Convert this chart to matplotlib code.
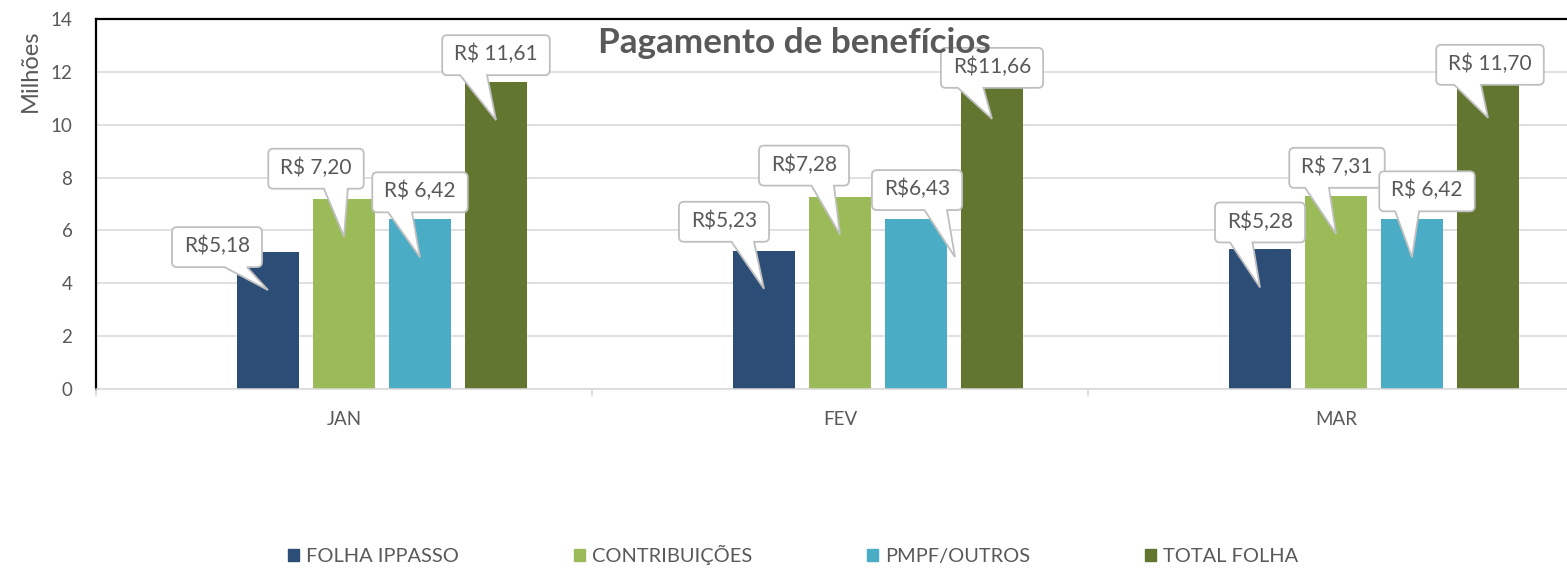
import numpy as np
import matplotlib
matplotlib.use("Agg")
import matplotlib.pyplot as plt
from matplotlib.path import Path
from matplotlib.patches import PathPatch, Patch
from matplotlib.transforms import Affine2D, ScaledTranslation

plt.rcParams["font.family"] = ["Lato", "DejaVu Sans"]

# ---- dados ----
months = ["JAN", "FEV", "MAR"]
series = ["FOLHA IPPASSO", "CONTRIBUIÇÕES", "PMPF/OUTROS", "TOTAL FOLHA"]
folha = [5.18, 5.23, 5.28]
contrib = [7.20, 7.28, 7.31]
pmpf = [6.42, 6.43, 6.42]
total = [11.61, 11.66, 11.70]
lab_folha = ["R$5,18", "R$5,23", "R$5,28"]
lab_contrib = ["R$ 7,20", "R$7,28", "R$ 7,31"]
lab_pmpf = ["R$ 6,42", "R$6,43", "R$ 6,42"]
lab_total = ["R$ 11,61", "R$11,66", "R$ 11,70"]

colors = ["#2C4D75", "#9BBB59", "#4BACC6", "#62762F"]
GRAY_TXT = "#595959"
GRID = "#D9D9D9"

# posição dos balões (px): centro da caixa relativo à ponta, e deslocamento da ponta
box_off = [
    [(-51, 43), (-40, 67), (0, 65)],
    [(-28, 68), (-36, 69), (1, 66)],
    [(0, 65), (-38, 67), (15, 66)],
    [(0, 65), (0, 51), (2, 53)],
]
tip_dx = [[0, 0, 0], [0, 0, 0], [0, 39, 0], [0, 0, 0]]
TIP_DROP = 38

W, H = 1567, 570
fig = plt.figure(figsize=(W / 100, H / 100), dpi=100)
ax = fig.add_axes([96 / W, 181 / H, 1488 / W, 370 / H])

x = np.arange(len(months))
step, width = 76 / 496, 62 / 496
values = [folha, contrib, pmpf, total]
labels = [lab_folha, lab_contrib, lab_pmpf, lab_total]

for i, (vals, c) in enumerate(zip(values, colors)):
    ax.bar(x + (i - 1) * step, vals, width, color=c, zorder=2, label=series[i])

ax.set_xlim(-0.5, 2.5)
ax.set_ylim(0, 14)
ax.set_yticks(range(0, 15, 2))
ax.yaxis.grid(True, color=GRID, lw=1.1)
ax.set_axisbelow(True)
ax.tick_params(axis="y", length=0, pad=17, labelsize=13.5, labelcolor=GRAY_TXT)
ax.set_xticks(x)
ax.set_xticklabels(months)
ax.set_xticks([-0.5, 0.5, 1.5, 2.5], minor=True)
ax.tick_params(axis="x", which="major", length=0, pad=16, labelsize=13.5, labelcolor=GRAY_TXT)
ax.tick_params(axis="x", which="minor", length=5, width=1.1, color=GRID)
for side in ["top", "left"]:
    ax.spines[side].set_color("black")
    ax.spines[side].set_linewidth(1.6)
ax.spines["bottom"].set_color(GRID)
ax.spines["bottom"].set_linewidth(1.1)
ax.spines["right"].set_visible(False)

renderer = fig.canvas.get_renderer()
s = fig.dpi / 100


def callout(xb, yb, text, off, tdx):
    base = ScaledTranslation(xb, yb, ax.transData)
    tx, ty = tdx, -TIP_DROP
    cx, cy = tx + off[0], ty + off[1]
    t = ax.text(0, 0, text, transform=Affine2D().translate(cx, cy + 1).scale(s) + base,
                ha="center", va="center", fontsize=15, color=GRAY_TXT, zorder=6)
    w = t.get_window_extent(renderer).width / s + 24
    h = 40
    r = 5
    l, rt = cx - w / 2, cx + w / 2
    b, tp = cy - h / 2, cy + h / 2
    right = (tx - cx) > 0
    x1 = l + w * (7 / 12 if right else 2 / 12)
    x2 = l + w * (10 / 12 if right else 5 / 12)
    verts = [(l + r, b), (x1, b), (tx, ty), (x2, b), (rt - r, b),
             (rt, b), (rt, b + r), (rt, tp - r),
             (rt, tp), (rt - r, tp), (l + r, tp),
             (l, tp), (l, tp - r), (l, b + r),
             (l, b), (l + r, b), (l + r, b)]
    codes = [Path.MOVETO, Path.LINETO, Path.LINETO, Path.LINETO, Path.LINETO,
             Path.CURVE3, Path.CURVE3, Path.LINETO,
             Path.CURVE3, Path.CURVE3, Path.LINETO,
             Path.CURVE3, Path.CURVE3, Path.LINETO,
             Path.CURVE3, Path.CURVE3, Path.CLOSEPOLY]
    p = PathPatch(Path(verts, codes), transform=Affine2D().scale(s) + base,
                  fc="white", ec="#BFBFBF", lw=1.3, zorder=5, clip_on=False)
    ax.add_patch(p)


for i, (vals, labs) in enumerate(zip(values, labels)):
    for j in range(len(months)):
        callout(x[j] + (i - 1) * step, vals[j], labs[j], box_off[i][j], tip_dx[i][j])

fig.text(794 / W, 1 - 53 / H, "Pagamento de benefícios", ha="center", va="baseline",
         fontsize=25.3, fontweight="bold", color=GRAY_TXT, zorder=10)
fig.text(30 / W, 1 - 71 / H, "Milhões", rotation=90, ha="center", va="center",
         fontsize=17, color=GRAY_TXT)

handles = [Patch(color=c) for c in colors]
fig.legend(handles, series, loc="center", bbox_to_anchor=(0.506, 0.026), ncol=4,
           frameon=False, fontsize=14.4, handlelength=0.55, handleheight=0.55,
           handletextpad=0.35, columnspacing=5.75, labelcolor=GRAY_TXT)

fig.savefig("out.png", dpi=100)
